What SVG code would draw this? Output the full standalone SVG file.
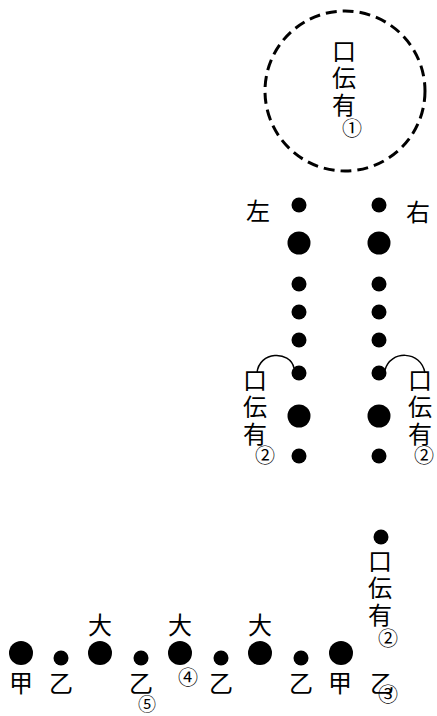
<svg xmlns="http://www.w3.org/2000/svg" width="437" height="716" viewBox="0 0 437 716">
<style>
.t{font-family:"Noto Sans CJK JP","Noto Sans CJK SC",sans-serif;font-size:24px;fill:#000;text-anchor:middle}
.v{font-family:"Noto Sans CJK JP","Noto Sans CJK SC",sans-serif;font-size:24px;fill:#000;writing-mode:vertical-rl;letter-spacing:3px}
.n{font-family:"Noto Sans CJK JP","Noto Sans CJK SC",sans-serif;font-size:20px;fill:#000;text-anchor:middle}
.s{fill:#000}
.c{fill:none;stroke:#000;stroke-width:1.5}
</style>
<rect width="437" height="716" fill="#fff"/>
<g id="top-circle">
<circle cx="345" cy="91" r="80" fill="none" stroke="#000" stroke-width="3" stroke-dasharray="11 6"/>
<text class="v" x="344" y="39">口伝有</text>
<text class="n" x="352" y="136">①</text>
</g>
<g id="left-column">
<circle class="s" cx="299" cy="205" r="7.5"/>
<circle class="s" cx="299" cy="243" r="11.5"/>
<circle class="s" cx="299" cy="284" r="7.5"/>
<circle class="s" cx="299" cy="312" r="7.5"/>
<circle class="s" cx="299" cy="340" r="7.5"/>
<circle class="s" cx="299" cy="373" r="7.5"/>
<circle class="s" cx="299" cy="416" r="11.5"/>
<circle class="s" cx="299" cy="456" r="7.5"/>
<text class="t" x="258" y="220">左</text>
<text class="v" x="255" y="368">口伝有</text>
<text class="n" x="265" y="463">②</text>
</g>
<g id="right-column">
<circle class="s" cx="379" cy="205" r="7.5"/>
<circle class="s" cx="379" cy="243" r="11.5"/>
<circle class="s" cx="379" cy="284" r="7.5"/>
<circle class="s" cx="379" cy="312" r="7.5"/>
<circle class="s" cx="379" cy="340" r="7.5"/>
<circle class="s" cx="379" cy="373" r="7.5"/>
<circle class="s" cx="379" cy="416" r="11.5"/>
<circle class="s" cx="379" cy="456" r="7.5"/>
<text class="t" x="418" y="221">右</text>
<text class="v" x="420" y="368">口伝有</text>
<text class="n" x="424" y="463">②</text>
</g>
<g id="bottom-right">
<circle class="s" cx="381" cy="537" r="7.5"/>
<text class="v" x="380" y="549">口伝有</text>
<text class="n" x="388" y="646">②</text>
</g>
<g id="bottom-row">
<circle class="s" cx="21" cy="653" r="12"/>
<circle class="s" cx="61" cy="658" r="7.5"/>
<circle class="s" cx="100" cy="653" r="12"/>
<circle class="s" cx="141" cy="658" r="7.5"/>
<circle class="s" cx="180" cy="653" r="12"/>
<circle class="s" cx="221" cy="658" r="7.5"/>
<circle class="s" cx="260" cy="653" r="12"/>
<circle class="s" cx="301" cy="658" r="7.5"/>
<circle class="s" cx="341" cy="653" r="12"/>
<text class="t" x="21" y="692">甲</text>
<text class="t" x="61" y="692">乙</text>
<text class="t" x="100" y="634">大</text>
<text class="t" x="141" y="692">乙</text>
<text class="n" x="147" y="711" style="font-size:18px">⑤</text>
<text class="t" x="180" y="634">大</text>
<text class="n" x="188" y="685">④</text>
<text class="t" x="221" y="692">乙</text>
<text class="t" x="260" y="634">大</text>
<text class="t" x="301" y="692">乙</text>
<text class="t" x="340" y="692">甲</text>
<text class="t" x="382" y="692">乙</text>
<text class="n" x="388" y="702">③</text>
</g>
<g id="connectors">
<path class="c" d="M257,373 C259,351 290,350 294,368"/>
<path class="c" d="M385,370 C390,350 421,350 425,373"/>
</g>
</svg>
